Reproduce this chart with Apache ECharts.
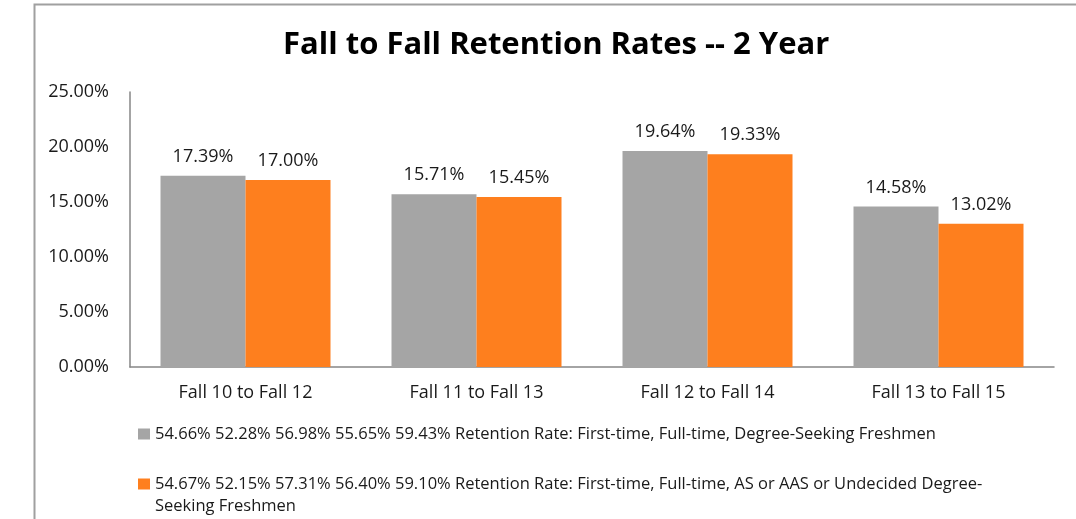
<!DOCTYPE html>
<html>
<head>
<meta charset="utf-8">
<script src="https://cdn.jsdelivr.net/npm/echarts@6/dist/echarts.min.js"></script>
<style>
  html, body { margin: 0; padding: 0; background: #fff; }
  #chart { width: 1076px; height: 519px; }
</style>
</head>
<body>
<div id="chart"></div>
<script>
// data
const categories = ['Fall 10 to Fall 12', 'Fall 11 to Fall 13', 'Fall 12 to Fall 14', 'Fall 13 to Fall 15']
const seriesNames = [
  '54.66% 52.28% 56.98% 55.65% 59.43% Retention Rate: First-time, Full-time, Degree-Seeking Freshmen',
  '54.67% 52.15% 57.31% 56.40% 59.10% Retention Rate: First-time, Full-time, AS or AAS or Undecided Degree-Seeking Freshmen'
]
const degreeSeeking = [17.39, 15.71, 19.64, 14.58]
const asAasUndecided = [17.00, 15.45, 19.33, 13.02]
const yTicks = [0, 5, 10, 15, 20, 25]

const font = '"Open Sans", "Noto Sans", sans-serif'
const chart = echarts.init(document.getElementById('chart'))

const labelStyle = {
  show: true,
  position: 'top',
  distance: 10,
  fontFamily: font,
  fontSize: 18,
  color: '#1a1a1a',
  formatter: p => p.value.toFixed(2) + '%'
}

const legendText = { fontFamily: font, fontSize: 16.5, color: '#1a1a1a', lineHeight: 22 }

const option = {
  animation: false,
  textStyle: { fontFamily: font },
  title: {
    text: 'Fall to Fall Retention Rates -- 2 Year',
    left: 278,
    top: 25,
    textStyle: { fontFamily: font, fontSize: 31, fontWeight: 'bold', color: '#000' }
  },
  graphic: [{
    type: 'rect',
    shape: { x: 34.5, y: 4.5, width: 1200, height: 600 },
    style: { fill: 'none', stroke: '#a0a0a0', lineWidth: 2 },
    silent: true
  }],
  legend: [
    {
      data: [seriesNames[0]],
      orient: 'vertical',
      left: 133,
      top: 418,
      itemWidth: 12,
      itemHeight: 11,
      icon: 'rect',
      textStyle: legendText
    },
    {
      data: [seriesNames[1]],
      orient: 'vertical',
      left: 133,
      top: 446,
      itemWidth: 12,
      itemHeight: 11,
      icon: 'rect',
      // leading empty line keeps the swatch level with the first text line
      formatter: name => '\n' + name.replace('Degree-Seeking', 'Degree-\nSeeking'),
      textStyle: legendText
    }
  ],
  grid: { left: 130, right: 22, top: 92, bottom: 152 },
  xAxis: {
    type: 'category',
    data: categories,
    axisLine: { lineStyle: { color: '#868686', width: 1.5 } },
    axisTick: { show: false },
    axisLabel: { fontFamily: font, fontSize: 18, color: '#1a1a1a', margin: 17 }
  },
  yAxis: {
    type: 'value',
    min: yTicks[0],
    max: yTicks[yTicks.length - 1],
    interval: 5,
    axisLine: { show: true, lineStyle: { color: '#868686', width: 1.5 } },
    axisTick: { show: false },
    splitLine: { show: false },
    axisLabel: {
      fontFamily: font, fontSize: 18, color: '#1a1a1a', margin: 21,
      formatter: v => v.toFixed(2) + '%'
    }
  },
  series: [
    {
      name: seriesNames[0],
      type: 'bar',
      data: degreeSeeking,
      barWidth: 85,
      barGap: '0%',
      itemStyle: { color: '#a5a5a5' },
      label: labelStyle
    },
    {
      name: seriesNames[1],
      type: 'bar',
      data: asAasUndecided,
      barWidth: 85,
      barGap: '0%',
      itemStyle: { color: '#fe7f1e' },
      label: labelStyle
    }
  ]
}

chart.setOption(option)
</script>
</body>
</html>
